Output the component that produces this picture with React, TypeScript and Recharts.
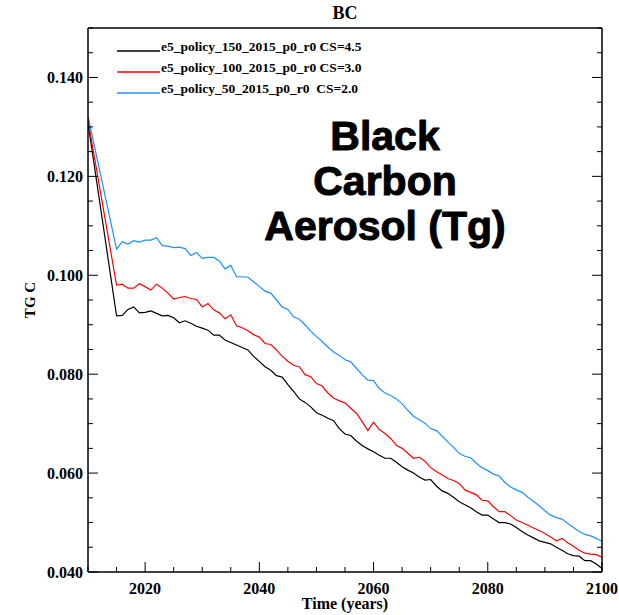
import React from 'react';
import { LineChart, Line, XAxis, YAxis } from 'recharts';

const years = [
  2010,
  2015, 2016, 2017, 2018, 2019,
  2020, 2021, 2022, 2023, 2024, 2025, 2026, 2027, 2028, 2029,
  2030, 2031, 2032, 2033, 2034, 2035, 2036, 2037, 2038, 2039,
  2040, 2041, 2042, 2043, 2044, 2045, 2046, 2047, 2048, 2049,
  2050, 2051, 2052, 2053, 2054, 2055, 2056, 2057, 2058, 2059,
  2060, 2061, 2062, 2063, 2064, 2065, 2066, 2067, 2068, 2069,
  2070, 2071, 2072, 2073, 2074, 2075, 2076, 2077, 2078, 2079,
  2080, 2081, 2082, 2083, 2084, 2085, 2086, 2087, 2088, 2089,
  2090, 2091, 2092, 2093, 2094, 2095, 2096, 2097, 2098, 2099,
  2100,
];

const policy150 = [
  0.1308,
  0.0918, 0.0919, 0.0931, 0.0936, 0.0924,
  0.0925, 0.0928, 0.0923, 0.0918, 0.0919, 0.0914, 0.0904, 0.0908, 0.0903, 0.0897,
  0.0893, 0.0889, 0.0879, 0.0879, 0.0869, 0.0864, 0.0859, 0.0854, 0.0849, 0.0836,
  0.0826, 0.0815, 0.0808, 0.0797, 0.0794, 0.0779, 0.0765, 0.0750, 0.0743, 0.0734,
  0.0722, 0.0717, 0.0711, 0.0706, 0.0690, 0.0679, 0.0676, 0.0665, 0.0656, 0.0649,
  0.0643, 0.0636, 0.0630, 0.0630, 0.0622, 0.0613, 0.0606, 0.0600, 0.0592, 0.0586,
  0.0587, 0.0574, 0.0564, 0.0559, 0.0551, 0.0542, 0.0536, 0.0530, 0.0522, 0.0515,
  0.0515, 0.0507, 0.0500, 0.0500, 0.0497, 0.0490, 0.0482, 0.0475, 0.0469, 0.0463,
  0.0460, 0.0457, 0.0450, 0.0444, 0.0437, 0.0433, 0.0432, 0.0423, 0.0423, 0.0416,
  0.0407,
];

const policy100 = [
  0.1314,
  0.0980, 0.0982, 0.0974, 0.0974, 0.0983,
  0.0977, 0.0970, 0.0982, 0.0974, 0.0964, 0.0952, 0.0955, 0.0957, 0.0953, 0.0951,
  0.0936, 0.0943, 0.0930, 0.0924, 0.0912, 0.0920, 0.0898, 0.0894, 0.0888, 0.0880,
  0.0875, 0.0862, 0.0860, 0.0849, 0.0836, 0.0826, 0.0818, 0.0815, 0.0799, 0.0795,
  0.0781, 0.0776, 0.0762, 0.0752, 0.0746, 0.0742, 0.0731, 0.0721, 0.0704, 0.0686,
  0.0703, 0.0688, 0.0680, 0.0670, 0.0656, 0.0650, 0.0640, 0.0630, 0.0632, 0.0624,
  0.0611, 0.0603, 0.0596, 0.0589, 0.0585, 0.0579, 0.0566, 0.0561, 0.0556, 0.0545,
  0.0544, 0.0532, 0.0522, 0.0522, 0.0514, 0.0505, 0.0500, 0.0495, 0.0489, 0.0484,
  0.0478, 0.0471, 0.0463, 0.0468, 0.0459, 0.0452, 0.0444, 0.0438, 0.0436, 0.0435,
  0.0430,
];

const policy50 = [
  0.1322,
  0.1053, 0.1068, 0.1063, 0.1070, 0.1067,
  0.1071, 0.1071, 0.1076, 0.1060, 0.1059, 0.1056, 0.1057, 0.1054, 0.1040, 0.1046,
  0.1034, 0.1036, 0.1036, 0.1029, 0.1013, 0.1020, 0.0997, 0.0997, 0.0996, 0.0987,
  0.0977, 0.0968, 0.0964, 0.0950, 0.0936, 0.0931, 0.0916, 0.0911, 0.0900, 0.0887,
  0.0876, 0.0866, 0.0855, 0.0845, 0.0838, 0.0829, 0.0825, 0.0812, 0.0799, 0.0788,
  0.0787, 0.0771, 0.0762, 0.0757, 0.0750, 0.0740, 0.0727, 0.0715, 0.0708, 0.0701,
  0.0690, 0.0686, 0.0675, 0.0663, 0.0652, 0.0640, 0.0634, 0.0631, 0.0620, 0.0611,
  0.0605, 0.0598, 0.0594, 0.0581, 0.0572, 0.0566, 0.0561, 0.0551, 0.0543, 0.0534,
  0.0524, 0.0515, 0.0510, 0.0507, 0.0498, 0.0490, 0.0482, 0.0476, 0.0473, 0.0468,
  0.0462,
];

const seriesKeys = ['p150', 'p100', 'p50'];
const seriesNames = [
  'e5_policy_150_2015_p0_r0 CS=4.5',
  'e5_policy_100_2015_p0_r0 CS=3.0',
  'e5_policy_50_2015_p0_r0  CS=2.0',
];
const seriesColors = ['#000000', '#ff0000', '#1e8fff'];

const yTicks = [0.04, 0.045, 0.05, 0.055, 0.06, 0.065, 0.07, 0.075, 0.08, 0.085, 0.09, 0.095, 0.1, 0.105, 0.11, 0.115, 0.12, 0.125, 0.13, 0.135, 0.14, 0.145, 0.15];
const xTicks = [2010, 2015, 2020, 2025, 2030, 2035, 2040, 2045, 2050, 2055, 2060, 2065, 2070, 2075, 2080, 2085, 2090, 2095, 2100];

const titleText = 'BC';
const xTitle = 'Time (years)';
const yTitle = 'TG C';
const bigText = ['Black', 'Carbon', 'Aerosol (Tg)'];

const data = years.map((yr, i) => ({
  year: yr,
  p150: policy150[i],
  p100: policy100[i],
  p50: policy50[i],
}));

const W = 619;
const H = 615;
const SERIF = '"Liberation Serif", "Times New Roman", serif';
const SANS = '"Liberation Sans", Arial, Helvetica, sans-serif';

const isYMajor = (v: number) => Math.abs(v * 50 - Math.round(v * 50)) < 1e-6;
const isXMajor = (v: number) => v % 20 === 0;

const LeftTick = (props: any) => {
  const { x, y, payload } = props;
  const v = payload.value as number;
  const major = isYMajor(v);
  return (
    <g>
      <line x1={x} x2={x + (major ? 10 : 5)} y1={y} y2={y} stroke="#000" strokeWidth={1} />
      {major && (
        <text x={x - 5} y={y + 5.5} textAnchor="end" fontFamily={SERIF} fontWeight="bold" fontSize={16} fill="#000">
          {v.toFixed(3)}
        </text>
      )}
    </g>
  );
};

const RightTick = (props: any) => {
  const { x, y, payload } = props;
  const major = isYMajor(payload.value);
  return <line x1={x} x2={x - (major ? 10 : 5)} y1={y} y2={y} stroke="#000" strokeWidth={1} />;
};

const BottomTick = (props: any) => {
  const { x, y, payload } = props;
  const v = payload.value as number;
  const major = isXMajor(v);
  return (
    <g>
      <line x1={x} x2={x} y1={y} y2={y - (major ? 10 : 5)} stroke="#000" strokeWidth={1} />
      {major && (
        <text x={x} y={y + 21.5} textAnchor="middle" fontFamily={SERIF} fontWeight="bold" fontSize={16} fill="#000">
          {v}
        </text>
      )}
    </g>
  );
};

const TopTick = (props: any) => {
  const { x, y, payload } = props;
  const major = isXMajor(payload.value);
  return <line x1={x} x2={x} y1={y} y2={y + (major ? 10 : 5)} stroke="#000" strokeWidth={1} />;
};

export default function App() {
  return (
    <div style={{ position: 'absolute', left: 0, top: 0, width: W, height: H, background: '#fff' }}>
      <LineChart width={W} height={H} data={data} margin={{ top: 0, right: 0, bottom: 0, left: 0 }}>
        <XAxis
          dataKey="year"
          type="number"
          domain={[2010, 2100]}
          ticks={xTicks}
          interval={0}
          height={43}
          tickSize={0}
          tickMargin={0}
          tickLine={false}
          axisLine={{ stroke: '#000', strokeWidth: 1.5 }}
          tick={<BottomTick />}
          allowDataOverflow
        />
        <XAxis
          xAxisId="top"
          orientation="top"
          type="number"
          domain={[2010, 2100]}
          ticks={xTicks}
          interval={0}
          height={28}
          tickSize={0}
          tickMargin={0}
          tickLine={false}
          axisLine={{ stroke: '#000', strokeWidth: 1.5 }}
          tick={<TopTick />}
          allowDataOverflow
        />
        <YAxis
          type="number"
          domain={[0.04, 0.15]}
          ticks={yTicks}
          interval={0}
          width={88}
          tickSize={0}
          tickMargin={0}
          tickLine={false}
          axisLine={{ stroke: '#000', strokeWidth: 1.5 }}
          tick={<LeftTick />}
          allowDataOverflow
        />
        <YAxis
          yAxisId="right"
          orientation="right"
          type="number"
          domain={[0.04, 0.15]}
          ticks={yTicks}
          interval={0}
          width={17}
          tickSize={0}
          tickMargin={0}
          tickLine={false}
          axisLine={{ stroke: '#000', strokeWidth: 1.5 }}
          tick={<RightTick />}
          allowDataOverflow
        />
        {seriesKeys.map((k, i) => (
          <Line
            key={k}
            dataKey={k}
            type="linear"
            stroke={seriesColors[i]}
            strokeWidth={1.2}
            dot={false}
            activeDot={false}
            isAnimationActive={false}
          />
        ))}
      </LineChart>
      <svg
        width={W}
        height={H}
        style={{ position: 'absolute', left: 0, top: 0, pointerEvents: 'none' }}
      >
        <text x={345} y={19} textAnchor="middle" fontFamily={SERIF} fontWeight="bold" fontSize={18} fill="#000">
          {titleText}
        </text>
        <text x={345} y={609} textAnchor="middle" fontFamily={SERIF} fontWeight="bold" fontSize={16} fill="#000">
          {xTitle}
        </text>
        <text
          x={0}
          y={0}
          transform="translate(35,300) rotate(-90)"
          textAnchor="middle"
          fontFamily={SERIF}
          fontWeight="bold"
          fontSize={15}
          fill="#000"
        >
          {yTitle}
        </text>
        {seriesNames.map((n, i) => (
          <g key={n}>
            <line x1={117} x2={160} y1={51 + i * 21} y2={51 + i * 21} stroke={seriesColors[i]} strokeWidth={1.3} />
            <text
              x={161}
              y={51 + i * 21}
              fontFamily={SERIF}
              fontWeight="bold"
              fontSize={13.5}
              fill="#000"
              style={{ whiteSpace: 'pre' }}
            >
              {n}
            </text>
          </g>
        ))}
        {bigText.map((t, i) => (
          <text
            key={t}
            x={385}
            y={150 + i * 45}
            textAnchor="middle"
            fontFamily={SANS}
            fontWeight="bold"
            fontSize={41}
            fill="#000"
            stroke="#000"
            strokeWidth={1}
            strokeLinejoin="round"
          >
            {t}
          </text>
        ))}
      </svg>
    </div>
  );
}
